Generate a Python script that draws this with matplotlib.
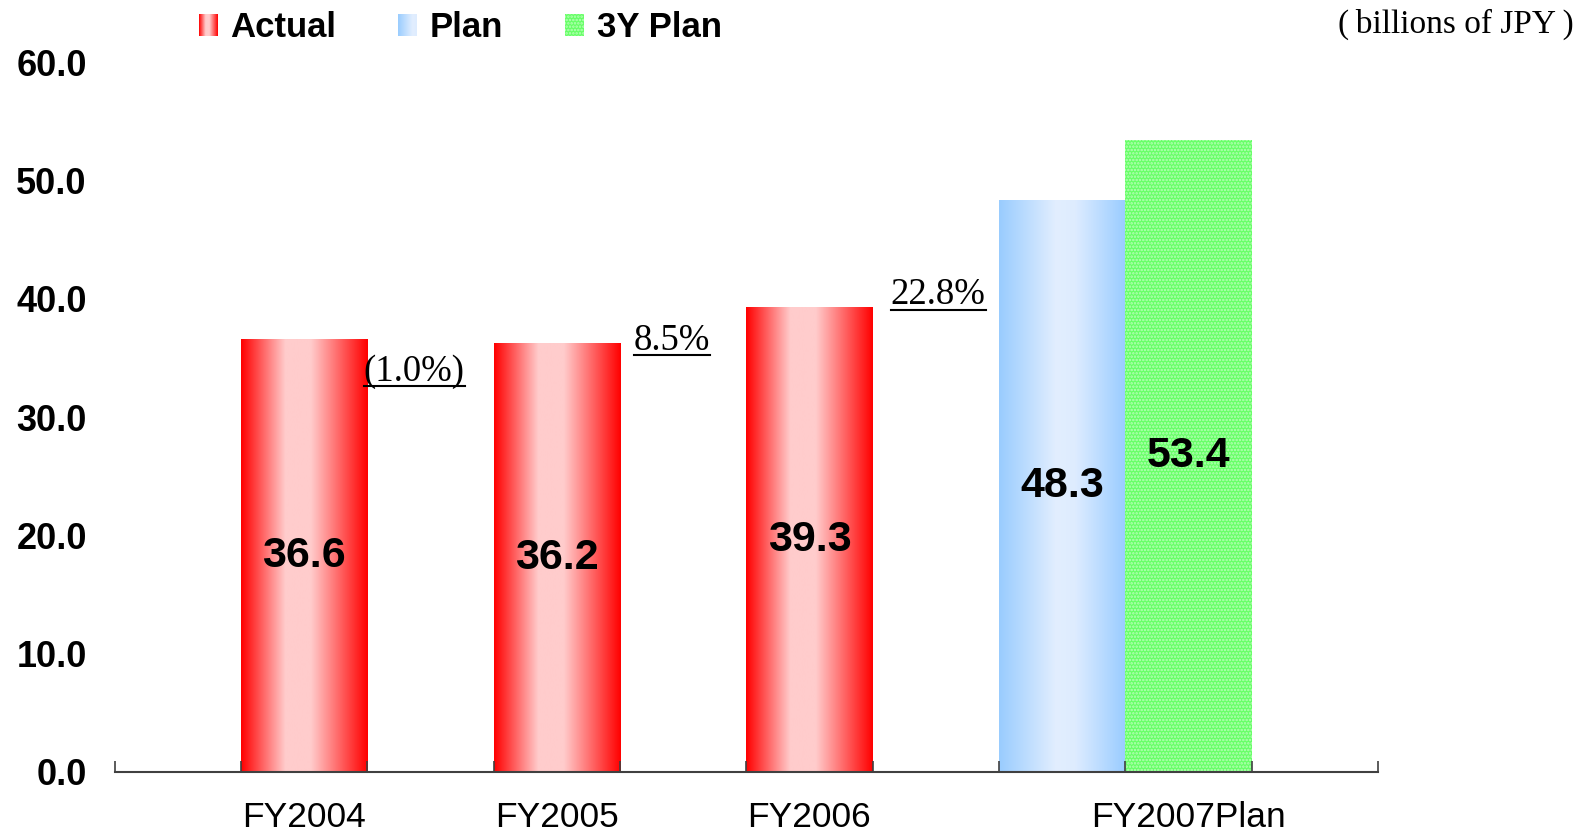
import numpy as np
import matplotlib
matplotlib.use("Agg")
import matplotlib.pyplot as plt
from matplotlib.colors import LinearSegmentedColormap

categories = ["FY2004", "FY2005", "FY2006", "FY2007Plan"]
actual = [36.6, 36.2, 39.3]
plan = [48.3]
plan_3y = [53.4]
growth = ["(1.0%)", "8.5%", "22.8%"]
yticks = [0, 10, 20, 30, 40, 50, 60]
legend_labels = ["Actual", "Plan", "3Y Plan"]

# layout (x in bar-width units)
actual_x = [1, 3, 5]
plan_x = [7]
plan_3y_x = [8]
cat_x = [1.5, 3.5, 5.5, 8.5]
growth_x = [2.37, 4.41, 6.52]
growth_line_y = [32.6, 35.25, 39.1]

plt.rcParams['font.family'] = ['Liberation Sans', 'DejaVu Sans']

red_cmap = LinearSegmentedColormap.from_list(
    'redgrad', [(0, '#ff0000'), (0.35, '#ffcccc'), (0.55, '#ffcccc'), (1, '#ff0000')])
blue_cmap = LinearSegmentedColormap.from_list(
    'bluegrad', [(0, '#99ccff'), (0.45, '#e2eefe'), (0.6, '#deecff'), (1, '#99ccff')])
grad = np.linspace(0, 1, 256).reshape(1, -1)

fig = plt.figure(figsize=(15.92, 8.38), dpi=100)
ax = fig.add_axes([0.072, 0.0788, 0.7935, 0.8468])


def gradient_bars(bars, cmap):
    for b in bars:
        x0, y0 = b.get_x(), b.get_y()
        ax.imshow(grad, cmap=cmap, aspect='auto', zorder=1,
                  extent=(x0, x0 + b.get_width(), y0, y0 + b.get_height()))


bars_a = ax.bar(actual_x, actual, width=1, align='edge', color='none', linewidth=0)
bars_p = ax.bar(plan_x, plan, width=1, align='edge', color='none', linewidth=0)
gradient_bars(bars_a, red_cmap)
gradient_bars(bars_p, blue_cmap)

plt.rcParams['hatch.linewidth'] = 1.2
ax.bar(plan_3y_x, plan_3y, width=1, align='edge', color='#66ff66',
       hatch='.....', edgecolor='#b8ffb8', linewidth=0, zorder=1)

for xs, vals in [(actual_x, actual), (plan_x, plan), (plan_3y_x, plan_3y)]:
    for x, v in zip(xs, vals):
        ax.text(x + 0.5, v / 2, f"{v:.1f}", ha='center', va='center',
                fontsize=31, fontweight='bold', zorder=3)

ax.set_xlim(0, 10)
ax.set_ylim(0, 60)
for s in ['top', 'right', 'left']:
    ax.spines[s].set_visible(False)
ax.spines['bottom'].set_color('#404040')
ax.spines['bottom'].set_linewidth(1.5)

ax.set_yticks(yticks)
ax.set_yticklabels([f"{v:.1f}" for v in yticks], fontsize=26, fontweight='bold')
ax.tick_params(axis='y', length=0, pad=20)

ax.set_xticks(cat_x)
ax.set_xticklabels(categories, fontsize=25.5)
ax.set_xticks(np.arange(0, 11), minor=True)
ax.tick_params(axis='x', which='major', length=0, pad=21)
ax.tick_params(axis='x', which='minor', direction='in', length=8, width=1.2, color='#404040')

gtexts = []
for x, y, lab in zip(growth_x, growth_line_y, growth):
    t = ax.text(x, y + 0.45, lab, ha='center', va='baseline', fontsize=26.5,
                family=['Liberation Serif', 'DejaVu Serif'], zorder=3)
    gtexts.append((t, y))

fig.canvas.draw()
inv = ax.transData.inverted()
for t, y in gtexts:
    bb = t.get_window_extent()
    x0 = inv.transform((bb.x0, 0))[0]
    x1 = inv.transform((bb.x1, 0))[0]
    ax.plot([x0, x1], [y, y], color='black', linewidth=1.5, zorder=3)

# legend
sw_x = [0.125, 0.25, 0.3552]
txt_x = [0.1448, 0.2698, 0.375]
for i, (sx, tx, lab) in enumerate(zip(sw_x, txt_x, legend_labels)):
    sax = fig.add_axes([sx, 0.9575, 0.0119, 0.0257])
    sax.set_axis_off()
    if i == 0:
        sax.imshow(grad, cmap=red_cmap, aspect='auto')
    elif i == 1:
        sax.imshow(grad[:, :150], cmap=blue_cmap, aspect='auto', vmin=0, vmax=1)
    else:
        sax.bar([0], [1], width=1, color='#66ff66', hatch='.....',
                edgecolor='#b8ffb8', linewidth=0)
        sax.set_xlim(-0.5, 0.5)
        sax.set_ylim(0, 1)
    fig.text(tx, 0.9675, lab, ha='left', va='center', fontsize=25, fontweight='bold')

fig.text(0.9887, 0.9715, "(\u2009billions of JPY\u2009)", ha='right', va='center', fontsize=24,
         family=['Liberation Serif', 'DejaVu Serif'])

fig.savefig("out.png", dpi=100)
